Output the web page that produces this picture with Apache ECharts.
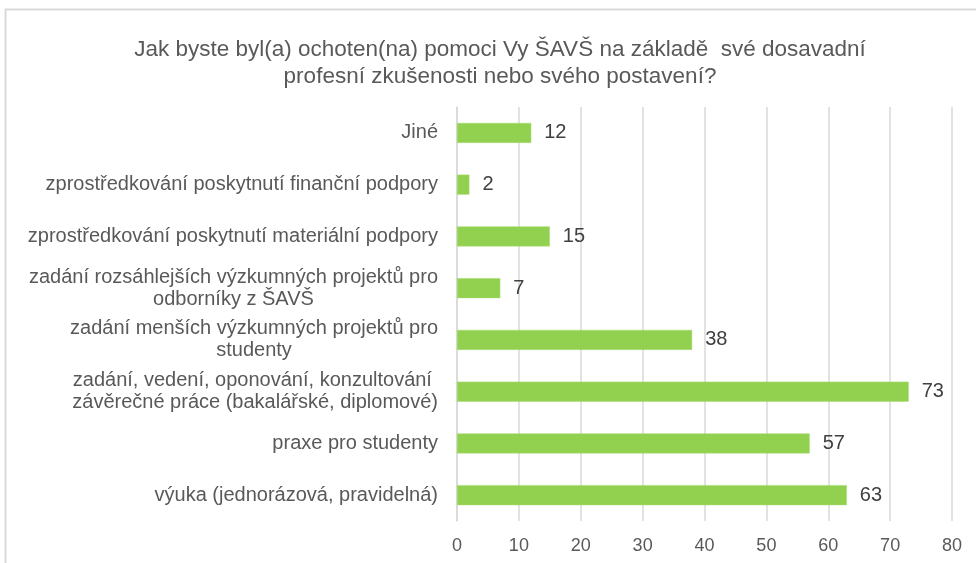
<!DOCTYPE html>
<html>
<head>
<meta charset="utf-8">
<script src="https://cdn.jsdelivr.net/npm/echarts@6/dist/echarts.min.js"></script>
<style>
  html, body { margin: 0; padding: 0; background: #fff; }
  #chart { width: 976px; height: 563px; }
</style>
</head>
<body>
<div id="chart"></div>
<script>
const titleText = 'Jak byste byl(a) ochoten(na) pomoci Vy ŠAVŠ na základě  své dosavadní\nprofesní zkušenosti nebo svého postavení?';

const categories = [
  'Jiné',
  'zprostředkování poskytnutí finanční podpory',
  'zprostředkování poskytnutí materiální podpory',
  'zadání rozsáhlejších výzkumných projektů pro\nodborníky z ŠAVŠ',
  'zadání menších výzkumných projektů pro\nstudenty',
  'zadání, vedení, oponování, konzultování \nzávěrečné práce (bakalářské, diplomové)',
  'praxe pro studenty',
  'výuka (jednorázová, pravidelná)'
];

const counts = [12, 2, 15, 7, 38, 73, 57, 63];

const axisMin = 0;
const axisMax = 80;
const axisStep = 10;

const FONT = '"Liberation Sans", Arial, sans-serif';

const chart = echarts.init(document.getElementById('chart'));

const option = {
  backgroundColor: '#ffffff',
  animation: false,
  title: {
    text: titleText,
    left: 495,
    top: 31,
    textAlign: 'center',
    textStyle: {
      fontFamily: FONT,
      fontSize: 22.5,
      fontWeight: 'normal',
      color: '#595959',
      lineHeight: 27
    }
  },
  graphic: [
    {
      type: 'line',
      shape: { x1: 5, y1: 9.5, x2: 976, y2: 9.5 },
      style: { stroke: '#d9d9d9', lineWidth: 2 }
    },
    {
      type: 'line',
      shape: { x1: 5.5, y1: 9, x2: 5.5, y2: 563 },
      style: { stroke: '#d9d9d9', lineWidth: 2 }
    }
  ],
  grid: {
    left: 457,
    right: 24,
    top: 107,
    bottom: 42
  },
  xAxis: {
    type: 'value',
    min: axisMin,
    max: axisMax,
    interval: axisStep,
    axisLine: { show: false },
    axisTick: { show: false },
    splitLine: { lineStyle: { color: '#d9d9d9', width: 1.5 } },
    axisLabel: {
      fontFamily: FONT,
      fontSize: 18,
      color: '#595959',
      margin: 16
    }
  },
  yAxis: {
    type: 'category',
    data: categories,
    inverse: true,
    axisLine: { show: true, lineStyle: { color: '#d9d9d9', width: 1.5 } },
    axisTick: { show: false },
    axisLabel: {
      margin: 19,
      formatter: function (v) {
        return v.split('\n').map(function (l) { return '{c|' + l + '}'; }).join('\n');
      },
      rich: {
        c: {
          align: 'center',
          fontFamily: FONT,
          fontSize: 20,
          color: '#595959',
          lineHeight: 22
        }
      }
    }
  },
  series: [
    {
      type: 'bar',
      data: counts,
      barWidth: 20,
      itemStyle: { color: '#92d050', borderColor: '#a6dc6e', borderWidth: 0.5 },
      label: {
        show: true,
        position: 'right',
        distance: 13,
        fontFamily: FONT,
        fontSize: 20,
        color: '#404040'
      }
    }
  ]
};

chart.setOption(option);
</script>
</body>
</html>
